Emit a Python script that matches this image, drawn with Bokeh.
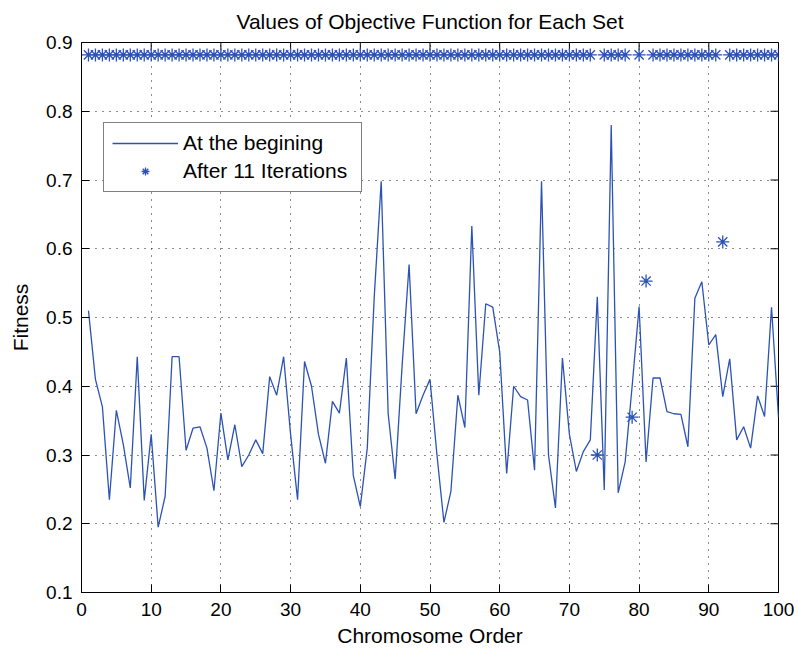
import math
from bokeh.plotting import figure
from bokeh.models import (Range1d, FixedTicker, PrintfTickFormatter,
                          Legend, LegendItem)
from bokeh.embed import file_html
from bokeh.resources import INLINE

# ---------------- data ----------------
chromosome = list(range(1, 101))

at_beginning = [
    0.510, 0.410, 0.370, 0.235, 0.365, 0.315, 0.252, 0.443, 0.234, 0.330,
    0.195, 0.240, 0.443, 0.443, 0.307, 0.339, 0.341, 0.310, 0.248, 0.361,
    0.293, 0.344, 0.283, 0.300, 0.322, 0.302, 0.414, 0.387, 0.443, 0.330,
    0.235, 0.436, 0.400, 0.330, 0.288, 0.378, 0.361, 0.441, 0.270, 0.225,
    0.310, 0.530, 0.698, 0.360, 0.265, 0.430, 0.577, 0.360, 0.387, 0.410,
    0.300, 0.202, 0.247, 0.387, 0.340, 0.633, 0.387, 0.520, 0.515, 0.450,
    0.273, 0.400, 0.385, 0.380, 0.278, 0.698, 0.300, 0.223, 0.441, 0.330,
    0.276, 0.305, 0.322, 0.530, 0.249, 0.780, 0.245, 0.290, 0.400, 0.516,
    0.290, 0.412, 0.412, 0.363, 0.360, 0.359, 0.312, 0.528, 0.552, 0.460,
    0.475, 0.385, 0.440, 0.322, 0.341, 0.310, 0.386, 0.356, 0.515, 0.355,
]

after_11_iterations = [
    0.882, 0.882, 0.882, 0.882, 0.882, 0.882, 0.882, 0.882, 0.882, 0.882,
    0.882, 0.882, 0.882, 0.882, 0.882, 0.882, 0.882, 0.882, 0.882, 0.882,
    0.882, 0.882, 0.882, 0.882, 0.882, 0.882, 0.882, 0.882, 0.882, 0.882,
    0.882, 0.882, 0.882, 0.882, 0.882, 0.882, 0.882, 0.882, 0.882, 0.882,
    0.882, 0.882, 0.882, 0.882, 0.882, 0.882, 0.882, 0.882, 0.882, 0.882,
    0.882, 0.882, 0.882, 0.882, 0.882, 0.882, 0.882, 0.882, 0.882, 0.882,
    0.882, 0.882, 0.882, 0.882, 0.882, 0.882, 0.882, 0.882, 0.882, 0.882,
    0.882, 0.882, 0.882, 0.300, 0.882, 0.882, 0.882, 0.882, 0.355, 0.882,
    0.553, 0.882, 0.882, 0.882, 0.882, 0.882, 0.882, 0.882, 0.882, 0.882,
    0.882, 0.610, 0.882, 0.882, 0.882, 0.882, 0.882, 0.882, 0.882, 0.882,
]

x_ticks = [0, 10, 20, 30, 40, 50, 60, 70, 80, 90, 100]
y_ticks = [0.1, 0.2, 0.3, 0.4, 0.5, 0.6, 0.7, 0.8, 0.9]

# ---------------- style ----------------
BLUE = "#2C52B4"
FONT = "Liberation Sans"

xr = Range1d(0, 100)
yr = Range1d(0.1, 0.9)

p = figure(width=798, height=652, output_backend="svg", toolbar_location=None,
           x_range=xr, y_range=yr,
           min_border_left=81, min_border_right=20,
           min_border_top=42, min_border_bottom=60,
           background_fill_color="white", border_fill_color="white")

p.title.text = "Values of Objective Function for Each Set"
p.title.align = "center"
p.title.vertical_align = "top"
p.title.standoff = 16
p.title.text_font = FONT
p.title.text_font_size = "21px"
p.title.text_font_style = "normal"
p.title.text_color = "black"

p.outline_line_color = "black"
p.outline_line_width = 1

for ax, ticks, fmt in ((p.xaxis[0], x_ticks, "%d"), (p.yaxis[0], y_ticks, "%.1f")):
    ax.ticker = FixedTicker(ticks=ticks)
    ax.formatter = PrintfTickFormatter(format=fmt)
    ax.major_tick_in = 8
    ax.major_tick_out = 0
    ax.minor_tick_line_color = None
    ax.axis_line_color = "black"
    ax.major_tick_line_color = "black"
    ax.major_label_text_font = FONT
    ax.major_label_text_font_size = "19px"
    ax.major_label_text_color = "black"
    ax.axis_label_text_font = FONT
    ax.axis_label_text_font_size = "21px"
    ax.axis_label_text_font_style = "normal"
    ax.axis_label_text_color = "black"

p.xaxis.axis_label = "Chromosome Order"
p.yaxis.axis_label = "Fitness"
p.xaxis.major_label_standoff = 10
p.yaxis.major_label_standoff = 9
p.xaxis.axis_label_standoff = 5
p.yaxis.axis_label_standoff = 11

for g, ticks in ((p.xgrid[0], x_ticks), (p.ygrid[0], y_ticks)):
    g.ticker = FixedTicker(ticks=ticks)
    g.grid_line_color = "black"
    g.grid_line_dash = "1 6"
    g.grid_line_width = 1
    g.grid_line_alpha = 0.9

# mirrored inward tick marks on the top and right edges (MATLAB box style);
# centred on the frame edge, the outer half is clipped by the frame
p.scatter(x=x_ticks, y=[yr.end] * len(x_ticks), marker="dash", angle=math.pi / 2,
          size=16, line_color="black", line_width=1)
p.scatter(x=[xr.end] * len(y_ticks), y=y_ticks, marker="dash",
          size=16, line_color="black", line_width=1)

line_r = p.line(chromosome, at_beginning, line_color=BLUE, line_width=1.3)
star_r = p.scatter(chromosome, after_11_iterations, marker="asterisk", size=13,
                   line_color=BLUE, line_width=1.3)

legend = Legend(items=[LegendItem(label="At the begining", renderers=[line_r]),
                       LegendItem(label="After 11 Iterations", renderers=[star_r])],
                location=(22, 400))
legend.margin = 0
legend.padding = 8
legend.spacing = 4
legend.glyph_width = 66
legend.glyph_height = 20
legend.label_standoff = 5
legend.label_width = 170
legend.label_text_font = FONT
legend.label_text_font_size = "21px"
legend.label_text_color = "black"
legend.border_line_color = "black"
legend.border_line_width = 1
legend.background_fill_color = "white"
legend.background_fill_alpha = 1
p.add_layout(legend)

open("out.html", "w").write(file_html(p, INLINE))
